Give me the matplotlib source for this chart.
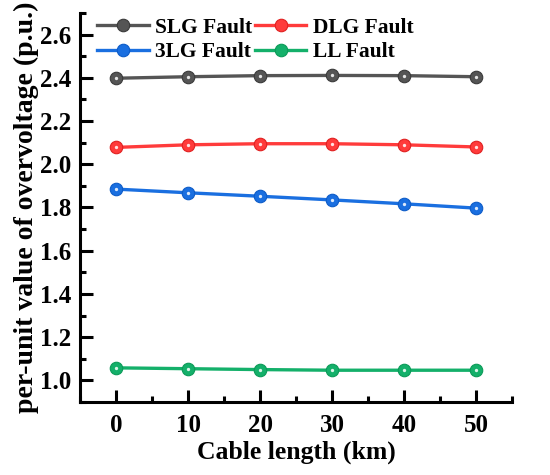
import matplotlib
matplotlib.use("Agg")
import matplotlib.pyplot as plt
from matplotlib.ticker import MultipleLocator

cable_length = [0, 10, 20, 30, 40, 50]
slg = [2.398, 2.405, 2.410, 2.411, 2.410, 2.405]
dlg = [2.078, 2.090, 2.095, 2.095, 2.090, 2.080]
tlg = [1.885, 1.868, 1.852, 1.835, 1.817, 1.797]
ll = [1.058, 1.054, 1.050, 1.047, 1.047, 1.047]

series = [
    ("SLG Fault", slg, "#555555", "#3a3a3a"),
    ("DLG Fault", dlg, "#ff3b3b", "#e02020"),
    ("3LG Fault", tlg, "#1a6fe0", "#0d5cc8"),
    ("LL Fault", ll, "#14b06a", "#0b9a58"),
]

plt.rcParams['font.family'] = ['Liberation Serif', 'DejaVu Serif']
plt.rcParams['font.weight'] = 'bold'

fig = plt.figure(figsize=(5.5, 4.75), dpi=100)
ax = fig.add_axes([0.1455, 0.1537, 0.7855, 0.819])

handles = {}
for name, vals, col, dark in series:
    h, = ax.plot(cable_length, vals, '-', color=col, lw=2.4, marker='o', ms=9,
                 mfc=col, mec=dark, mew=0.8, label=name, zorder=3)
    ax.plot(cable_length, vals, 'o', color='white', ms=2.4, alpha=0.85,
            markeredgewidth=0, zorder=4)
    handles[name] = h

ax.set_xlim(-5, 55)
ax.set_ylim(0.9, 2.7)
ax.xaxis.set_major_locator(MultipleLocator(10))
ax.xaxis.set_minor_locator(MultipleLocator(5))
ax.yaxis.set_minor_locator(MultipleLocator(0.1))
ax.set_yticks([1.0, 1.2, 1.4, 1.6, 1.8, 2.0, 2.2, 2.4, 2.6])

for s in ['top', 'right']:
    ax.spines[s].set_visible(False)
for s in ['left', 'bottom']:
    ax.spines[s].set_linewidth(2.2)

ax.tick_params(which='major', direction='in', length=9, width=2.2, labelsize=18)
ax.tick_params(axis='x', which='major', pad=9)
ax.tick_params(axis='y', which='major', pad=6)
ax.tick_params(which='minor', direction='in', length=4.5, width=2.2)
for lab in ax.get_xticklabels() + ax.get_yticklabels():
    lab.set_fontweight('bold')

ax.set_xlabel("Cable length (km)", fontsize=18.5, fontweight='bold', labelpad=2)
ax.set_ylabel("per-unit value of overvoltage (p.u.)", fontsize=20, fontweight='bold', labelpad=1)

order = ["SLG Fault", "3LG Fault", "DLG Fault", "LL Fault"]
leg = ax.legend([handles[n] for n in order], order, loc='upper left', ncol=2,
                frameon=False, fontsize=15.5,
                handlelength=2.4, columnspacing=0.1, handletextpad=0.3,
                labelspacing=0.2, borderaxespad=0.0, bbox_to_anchor=(0.02, 1.01))
for t in leg.get_texts():
    t.set_fontweight('bold')

fig.savefig("out.png", dpi=100)
